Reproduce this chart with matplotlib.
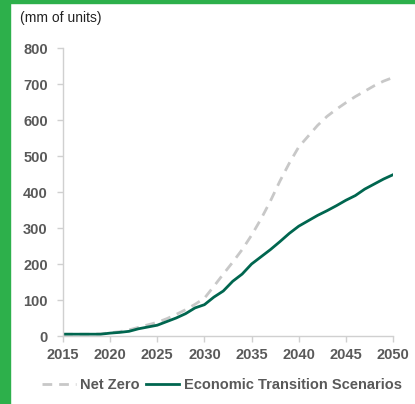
import matplotlib.pyplot as plt
import matplotlib.patches as patches

plt.rcParams['font.family'] = ['Liberation Sans', 'DejaVu Sans']

# Data
years = list(range(2015, 2051))
net_zero = [5, 5, 5, 5, 6, 9, 12, 17, 24, 31,
            38, 48, 60, 73, 88, 105, 138, 172, 205, 240,
            280, 325, 375, 430, 480, 525, 555, 585, 610, 630,
            648, 665, 680, 695, 708, 718]
ets = [5, 5, 5, 5, 5, 8, 10, 13, 20, 25,
       30, 40, 50, 62, 78, 87, 108, 125, 152, 172,
       200, 220, 240, 262, 285, 305, 320, 335, 348, 362,
       377, 390, 408, 422, 436, 448]
x_ticks = [2015, 2020, 2025, 2030, 2035, 2040, 2045, 2050]
y_ticks = [0, 100, 200, 300, 400, 500, 600, 700, 800]

grey_txt = '#595959'
spine_col = '#D0D0D0'

fig = plt.figure(figsize=(4.15, 4.04), dpi=100)

# green frame at left and top
fig.patches.append(patches.Rectangle((0, 0), 10 / 415, 1, transform=fig.transFigure,
                                     color='#2DB04B', zorder=0))
fig.patches.append(patches.Rectangle((0, 1 - 3 / 404), 1, 3 / 404, transform=fig.transFigure,
                                     color='#2DB04B', zorder=0))

ax = fig.add_axes([63 / 415, 1 - 336 / 404, 330 / 415, 288 / 404])

ax.plot(years, net_zero, color='#C8C8C8', lw=2.0, dashes=(3.5, 2.5), label='Net Zero')
ax.plot(years, ets, color='#00664F', lw=2.0, label='Economic Transition Scenarios')

ax.set_xlim(2015, 2050)
ax.set_ylim(0, 800)
ax.set_xticks(x_ticks)
ax.set_yticks(y_ticks)

for s in ['top', 'right']:
    ax.spines[s].set_visible(False)
for s in ['left', 'bottom']:
    ax.spines[s].set_color(spine_col)
    ax.spines[s].set_linewidth(1.0)

ax.tick_params(axis='both', colors=spine_col, length=4, width=1.0,
               labelcolor=grey_txt, labelsize=10.5)
ax.tick_params(axis='y', pad=7)
ax.tick_params(axis='x', pad=4.5)
for lbl in ax.get_xticklabels() + ax.get_yticklabels():
    lbl.set_fontweight('bold')

fig.text(20 / 415, 1 - 18 / 404, '(mm of units)', fontsize=10, color='#222222',
         ha='left', va='center')

leg = fig.legend(loc='center', bbox_to_anchor=(222 / 415, 1 - 385 / 404), ncol=2,
                 frameon=False, fontsize=10.5, handlelength=2.3, columnspacing=0.4,
                 handletextpad=0.3)
for t in leg.get_texts():
    t.set_color(grey_txt)
    t.set_fontweight('bold')

fig.savefig('out.png', dpi=100)
